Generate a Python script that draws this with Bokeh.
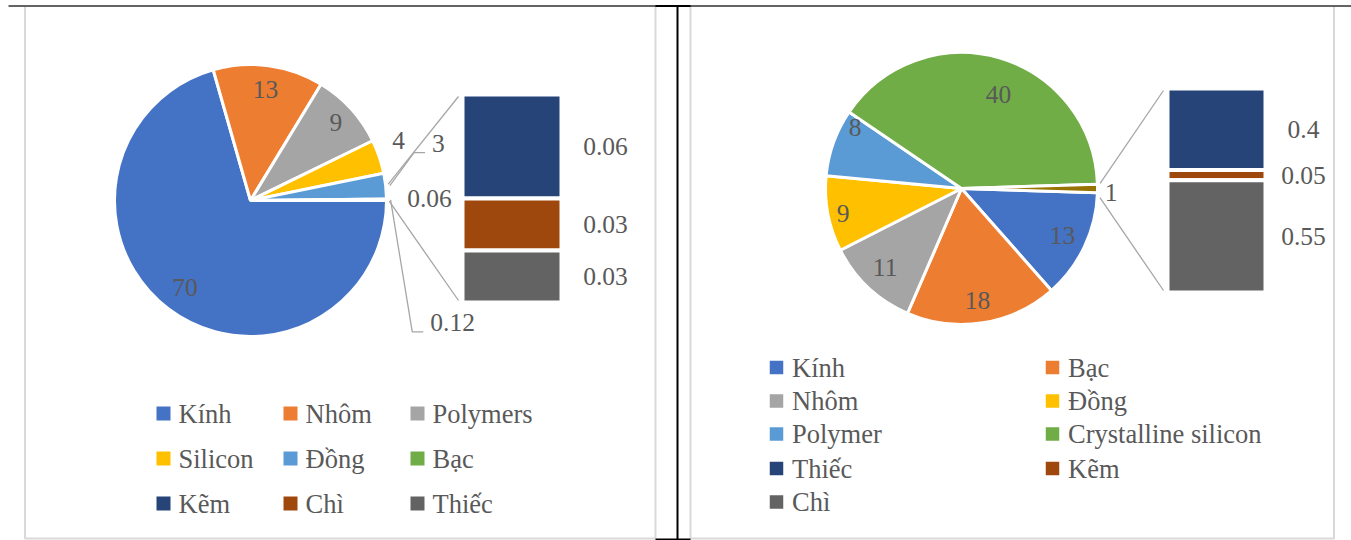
import math
from bokeh.plotting import figure
from bokeh.models import Range1d, ColumnDataSource
from bokeh.core.properties import value
from bokeh.embed import file_html
from bokeh.resources import INLINE

# ---------------- data ----------------
left_pie_categories = ["Kính", "Nhôm", "Polymers", "Silicon", "Đồng", "Bạc"]
left_pie_values = [70, 13, 9, 4, 3, 0.06]
left_bar_categories = ["Kẽm", "Chì", "Thiếc"]
left_bar_values = [0.06, 0.03, 0.03]
left_legend = ["Kính", "Nhôm", "Polymers", "Silicon", "Đồng", "Bạc", "Kẽm", "Chì", "Thiếc"]

right_pie_categories = ["Kính", "Bạc", "Nhôm", "Đồng", "Polymer", "Crystalline silicon"]
right_pie_values = [13, 18, 11, 9, 8, 40]
right_bar_categories = ["Thiếc", "Kẽm", "Chì"]
right_bar_values = [0.4, 0.05, 0.55]
right_legend = ["Kính", "Bạc", "Nhôm", "Đồng", "Polymer", "Crystalline silicon", "Thiếc", "Kẽm", "Chì"]

# ---------------- styles ----------------
left_colors = {"Kính": "#4472C4", "Nhôm": "#ED7D31", "Polymers": "#A5A5A5", "Silicon": "#FFC000",
               "Đồng": "#5B9BD5", "Bạc": "#70AD47", "Kẽm": "#264478", "Chì": "#9E480E", "Thiếc": "#636363"}
right_colors = {"Kính": "#4472C4", "Bạc": "#ED7D31", "Nhôm": "#A5A5A5", "Đồng": "#FFC000",
                "Polymer": "#5B9BD5", "Crystalline silicon": "#70AD47", "Thiếc": "#264478",
                "Kẽm": "#9E480E", "Chì": "#636363"}
OTHER_COLOR = "#997300"
TEXT_COLOR = "#595959"
FONT = value("Liberation Serif")
LEADER = "#a6a6a6"

W, H = 1351, 540


def X(px):
    return px


def Y(py):
    return H - py


def fmt(v):
    return f"{round(v, 6):g}"


p = figure(width=W, height=H, x_range=Range1d(0, W), y_range=Range1d(0, H),
           output_backend="svg", toolbar_location=None, min_border=0,
           x_axis_type=None, y_axis_type=None, outline_line_color=None,
           background_fill_color="white", border_fill_color="white")
p.grid.visible = False

# ---------------- frame ----------------
p.multi_line(xs=[[X(24.5), X(24.5), X(655), X(655)], [X(690), X(690), X(1333.5), X(1333.5)]],
             ys=[[Y(6), Y(538), Y(538), Y(6)], [Y(6), Y(538), Y(538), Y(6)]],
             line_color="#d9d9d9", line_width=2)
p.line(x=[X(8), X(1351)], y=[Y(5.5), Y(5.5)], line_color="#303030", line_width=1.6)
p.multi_line(xs=[[X(655), X(690)], [X(655), X(690)], [X(677), X(677)]],
             ys=[[Y(5.5), Y(5.5)], [Y(539), Y(539)], [Y(5), Y(540)]],
             line_color="black", line_width=2)


def draw_panel(cx, cy, r, start_deg, cats, vals, colors, bar_cats, bar_vals,
               bar_l, bar_r, bar_t, bar_b, label_adj, bar_label_dx, conn, fs):
    other = sum(bar_vals)
    all_vals = list(vals) + [other]
    all_cols = [colors[c] for c in cats] + [OTHER_COLOR]
    total = sum(all_vals)
    cum = 0.0
    starts, ends, mids = [], [], []
    for v in all_vals:
        a0 = start_deg - cum / total * 360.0
        cum += v
        a1 = start_deg - cum / total * 360.0
        starts.append(math.radians(a1))
        ends.append(math.radians(a0))
        mids.append((a0 + a1) / 2.0)
    src = ColumnDataSource(dict(start=starts, end=ends, color=all_cols))
    p.wedge(x=X(cx), y=Y(cy), radius=r, start_angle="start", end_angle="end",
            direction="anticlock", fill_color="color", line_color="white",
            line_width=3, source=src)

    # pie labels
    lx, ly, lt = [], [], []
    for i, v in enumerate(all_vals):
        off, fac = label_adj[i]
        a = math.radians(mids[i] + off)
        lx.append(X(cx) + r * fac * math.cos(a))
        ly.append(Y(cy) + r * fac * math.sin(a))
        lt.append(fmt(v))
    p.text(x=lx, y=ly, text=lt, text_font=FONT, text_font_size=fs, text_color=TEXT_COLOR,
           text_align="center", text_baseline="middle")

    # stacked bar
    scale = (bar_b - bar_t) / other
    tops, bots, bcols, mid_y, btxt = [], [], [], [], []
    y0 = bar_t
    for c, v in zip(bar_cats, bar_vals):
        y1 = y0 + v * scale
        tops.append(Y(y0))
        bots.append(Y(y1))
        bcols.append(colors[c])
        mid_y.append(Y((y0 + y1) / 2.0))
        btxt.append(fmt(v))
        y0 = y1
    p.quad(left=X(bar_l), right=X(bar_r), top=tops, bottom=bots, fill_color=bcols,
           line_color="white", line_width=4)
    p.text(x=[X(bar_r) + bar_label_dx] * len(btxt), y=mid_y, text=btxt, text_font=FONT,
           text_font_size=fs, text_color=TEXT_COLOR, text_align="center",
           text_baseline="middle")

    # connector lines pie -> bar
    ca_top, ca_bot = math.radians(conn[0]), math.radians(conn[1])
    p.multi_line(xs=[[X(cx) + 1.02 * r * math.cos(ca_top), X(bar_l) - 4],
                     [X(cx) + 1.02 * r * math.cos(ca_bot), X(bar_l) - 4]],
                 ys=[[Y(cy) + 1.02 * r * math.sin(ca_top), Y(bar_t + 2)],
                     [Y(cy) + 1.02 * r * math.sin(ca_bot), Y(bar_b - 2)]],
                 line_color=LEADER, line_width=1.3)
    return mids, lx, ly, lt


# ---------------- left panel ----------------
L_CX, L_CY, L_R = 250, 200, 136
left_label_adj = [(0, 0.80), (0, 0.82), (0, 0.85), (3.4, 1.176), (10.9, 1.445), (0.1, 1.316), (-31.3, 1.735)]
mids, lx, ly, lt = draw_panel(L_CX, L_CY, L_R, 0.0, left_pie_categories, left_pie_values, left_colors,
                              left_bar_categories, left_bar_values, 462, 561, 94, 302,
                              left_label_adj, 44, (6.8, -0.3), "25.5px")

# leader lines for "3" (Đồng) and "0.12" (other)
lead_xs, lead_ys = [], []
for idx in (4, 6):
    a = math.radians(mids[idx])
    sx = X(L_CX) + 1.03 * L_R * math.cos(a)
    sy = Y(L_CY) + 1.03 * L_R * math.sin(a)
    half = 0.5 * 25.5 * sum(0.25 if ch == "." else 0.5 for ch in lt[idx])
    ex = lx[idx] - half - 7
    ey = ly[idx] - 9.5
    lead_xs.append([sx, ex - 11, ex])
    lead_ys.append([sy, ey, ey])
p.multi_line(xs=lead_xs, ys=lead_ys, line_color=LEADER, line_width=1.3)

# ---------------- right panel ----------------
R_CX, R_CY, R_R = 961, 188, 136
right_label_adj = [(0, 0.82), (-0.9, 0.83), (-0.7, 0.81), (1.2, 0.89), (-9.9, 0.90), (-5.3, 0.74), (-1.5, 1.10)]
draw_panel(R_CX, R_CY, R_R, -1.8, right_pie_categories, right_pie_values, right_colors,
           right_bar_categories, right_bar_values, 1167, 1265, 88, 292,
           right_label_adj, 38, (2.1, -3.8), "25.5px")


# ---------------- legends ----------------
def draw_legend(names, colors, col_x, row_y, size, fs, text_dx):
    n = len(col_x)
    mx, my, mc, tx = [], [], [], []
    for i, nm in enumerate(names):
        c, rrow = i % n, i // n
        mx.append(X(col_x[c]))
        my.append(Y(row_y[rrow]))
        mc.append(colors[nm])
        tx.append(X(col_x[c]) + text_dx)
    p.rect(x=mx, y=my, width=size, height=size, fill_color=mc, line_color=None)
    p.text(x=tx, y=my, text=names, text_font=FONT, text_font_size=fs, text_color=TEXT_COLOR,
           text_align="left", text_baseline="middle")


draw_legend(left_legend, left_colors, [163, 290, 417], [413, 458, 503], 14, "26.5px", 15)
draw_legend(right_legend, right_colors, [776, 1052], [367, 400.5, 433.5, 468, 501.5], 13.5, "26.5px", 15.5)

open("out.html", "w").write(file_html(p, INLINE))
